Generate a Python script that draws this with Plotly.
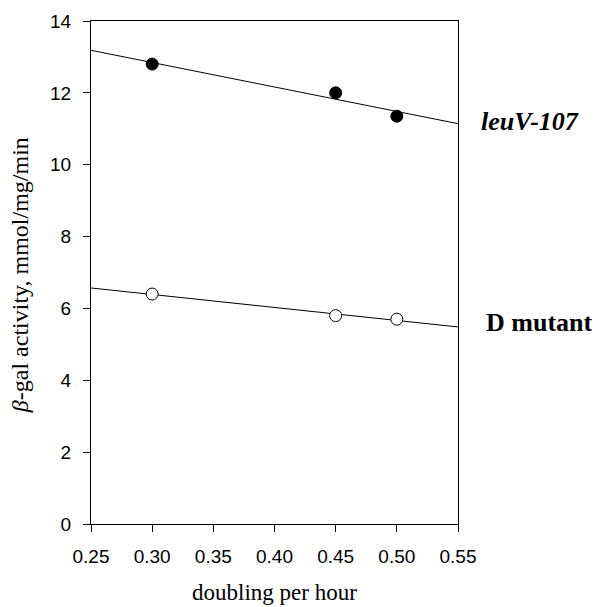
import numpy as np
import plotly.graph_objects as go

# Data
doubling = [0.30, 0.45, 0.50]
leuv_activity = [12.8, 12.0, 11.35]
dmut_activity = [6.4, 5.8, 5.7]
x_ticks = [0.25, 0.30, 0.35, 0.40, 0.45, 0.50, 0.55]
y_ticks = [0, 2, 4, 6, 8, 10, 12, 14]
x_range = [0.25, 0.55]

fig = go.Figure()

xl = np.array(x_range)
for vals, fill in [(leuv_activity, "black"), (dmut_activity, "white")]:
    slope, icpt = np.polyfit(doubling, vals, 1)
    fig.add_trace(go.Scatter(x=xl, y=slope * xl + icpt, mode="lines",
                             line=dict(color="black", width=1), showlegend=False,
                             hoverinfo="skip"))
    fig.add_trace(go.Scatter(x=doubling, y=vals, mode="markers",
                             marker=dict(size=12, color=fill,
                                         line=dict(color="black", width=1)),
                             showlegend=False, cliponaxis=False))

fig.add_annotation(x=1.058, y=11.2, xref="paper", yref="y",
                   text="<b><i>leuV-107</i></b>", showarrow=False, xanchor="left",
                   yanchor="middle",
                   font=dict(family="Liberation Serif", size=26, color="black"))
fig.add_annotation(x=1.07, y=5.6, xref="paper", yref="y",
                   text="<b>D mutant</b>", showarrow=False, xanchor="left",
                   yanchor="middle",
                   font=dict(family="Liberation Serif", size=26, color="black"))
# axis titles
fig.add_annotation(x=0.5, y=-0.163, xref="paper", yref="paper",
                   text="doubling per hour", showarrow=False,
                   xanchor="center", yanchor="bottom", borderpad=0,
                   font=dict(family="Liberation Serif", size=23, color="black"))
fig.add_annotation(x=-0.193, y=0.495, xref="paper", yref="paper",
                   text="<i>β</i>-gal activity, mmol/mg/min", showarrow=False,
                   textangle=-90, xanchor="center", yanchor="middle",
                   font=dict(family="Liberation Serif", size=24, color="black"))

fig.update_layout(
    width=592, height=599,
    margin=dict(l=83, r=142, t=13, b=83, autoexpand=False),
    paper_bgcolor="white", plot_bgcolor="white",
    font=dict(family="Liberation Sans", color="black"),
)
fig.update_xaxes(range=x_range, tickvals=x_ticks,
                 ticktext=[f"{v:.2f}" for v in x_ticks],
                 showline=True, linecolor="black", linewidth=1, mirror=True,
                 ticks="outside", ticklen=7, tickcolor="black",
                 ticklabelstandoff=8, automargin=False,
                 showgrid=False, zeroline=False,
                 tickfont=dict(family="Liberation Sans", size=19, color="black"))
fig.update_yaxes(range=[0, 14], tickvals=y_ticks,
                 showline=True, linecolor="black", linewidth=1, mirror=True,
                 ticks="outside", ticklen=7, tickcolor="black",
                 ticklabelstandoff=8, automargin=False,
                 showgrid=False, zeroline=False,
                 tickfont=dict(family="Liberation Sans", size=19, color="black"))

fig.write_html("out.html")
